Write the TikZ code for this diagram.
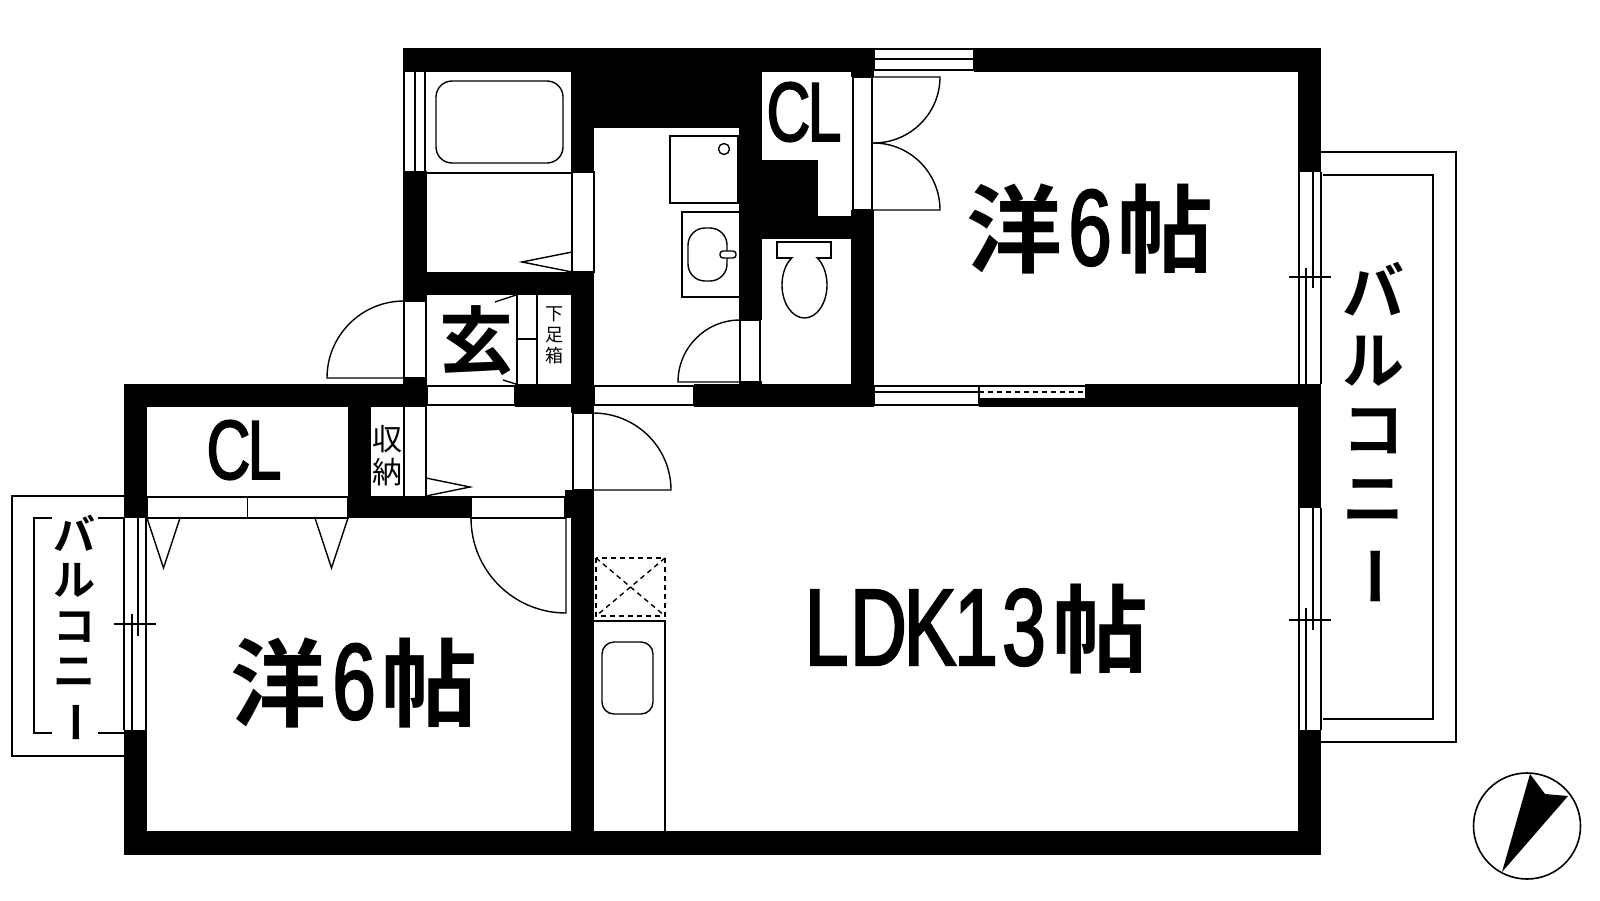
\documentclass[tikz,border=0pt]{standalone}
\usepackage{fontspec}
\setmainfont{Liberation Sans}
\newfontfamily\jpb{Noto Sans CJK JP Bold}
\newfontfamily\jpr{Noto Sans CJK JP}
\newfontfamily\latb[FakeStretch=0.72,FakeBold=2]{Liberation Sans}
\newcommand{\hw}[2]{\makebox[#1pt][c]{#2}}
\newcommand{\vbar}{\hspace*{.4em}\rotatebox[origin=c]{90}{ー}}
\newcommand{\bigjp}[1]{\fontsize{96}{96}\jpb #1}
\tikzset{
  x=1pt,y=-1pt,
  wallfill/.style={fill=black,draw=none},
  ln/.style={draw=black,line width=1.4pt,line join=miter},
  txt/.style={inner sep=0pt,outer sep=0pt,text=black},
  dashln/.style={ln,dash pattern=on 5pt off 4pt},
}
\newcommand{\W}[4]{\fill[wallfill] (#1,#2) rectangle (#3,#4);}
\newcommand{\R}[4]{\draw[ln] (#1,#2) rectangle (#3,#4);}
\begin{document}
\begin{tikzpicture}
\useasboundingbox (0,0) rectangle (1600,900);
\fill[white] (0,0) rectangle (1600,900);
% walls
\W{403}{48}{874}{72}\W{974}{48}{1321}{72}\W{851}{48}{874}{77}
\W{571}{72}{762}{128}\W{571}{128}{594}{172}\W{739}{128}{762}{320}
\W{762}{160}{818}{216}\W{739}{216}{874}{239}\W{851}{210}{874}{407}
\W{403}{171}{427}{301}\W{403}{272}{594}{295}\W{571}{272}{594}{413}
\W{515}{384}{594}{407}\W{694}{384}{874}{407}\W{739}{381}{762}{384}
\W{403}{378}{427}{407}\W{124}{384}{427}{407}\W{124}{384}{147}{518}
\W{348}{384}{371}{518}\W{348}{496}{471}{518}\W{565}{490}{594}{518}
\W{571}{490}{594}{855}\W{124}{730}{147}{855}\W{124}{831}{1321}{855}
\W{1298}{48}{1321}{172}\W{1298}{384}{1321}{508}\W{1298}{730}{1321}{855}
\W{1085}{384}{1298}{407}\W{979}{398}{1085}{406}
% bath window and bath
\draw[ln] (404,72)--(404,171) (415,72)--(415,171) (425,72)--(425,171);
\draw[ln,rounded corners=16pt] (436,81) rectangle (563,163);
\draw[ln] (427,173)--(571,173);
\R{572}{172}{594}{272}
\draw[ln] (572,252)--(522,262)--(572,272);
% entry
\R{404}{301}{426}{378}
\draw[ln] (404,301) arc (270:180:77) -- (404,378);
\draw[ln] (517,295)--(517,384) (537,295)--(537,384) (517,339)--(537,339);
\draw[ln] (495,302)--(516,295) (503,380)--(516,384);
\R{427}{386}{515}{405}
\R{594}{386}{694}{405}
% washer and sink
\R{670}{136}{738}{203}
\draw[ln] (724,149) circle (5.5);
\draw[ln] (739,212)--(682,212)--(682,297)--(739,297);
\draw[ln,rounded corners=17pt] (688,228) rectangle (727,281);
\draw[ln,fill=white,rounded corners=3pt] (720,251) rectangle (736,258);
% wc door and wc
\R{740}{320}{760}{382}
\draw[ln] (740,320) arc (270:180:62) -- (740,382);
\draw[ln] (804.5,285) ellipse (22.5 and 33);
\fill[white] (778,240) rectangle (832,257);
\draw[ln] (791,258)--(777,258)--(777,242)--(831,242)--(831,258)--(818,258);
% closet double door
\R{853}{77}{872}{210}
\draw[ln] (872,77)--(940,77) arc (0:90:66.5 and 66) -- (872,143);
\draw[ln] (872,210)--(940,210) arc (0:-90:66.5 and 67) -- (872,143);
% top and bottom windows of the bedroom
\R{874}{49}{974}{70}
\draw[ln] (874,59)--(974,59);
\R{874}{386}{979}{405}
\draw[ln] (874,392)--(979,392);
\draw[ln] (979,386)--(1085,386) (979,406)--(1085,406);
\draw[dashln] (979,392)--(1085,392);
% right windows
\draw[ln] (1299,172)--(1299,384) (1321,172)--(1321,384);
\draw[ln] (1306,268)--(1306,384) (1313,172)--(1313,288) (1289,277)--(1331,277);
\draw[ln] (1299,508)--(1299,730) (1321,508)--(1321,730);
\draw[ln] (1306,608)--(1306,730) (1313,508)--(1313,630) (1289,620)--(1331,620);
% right balcony
\draw[ln] (1321,152)--(1456,152)--(1456,742)--(1321,742);
\draw[ln] (1323,175)--(1433,175)--(1433,719)--(1323,719);
% left balcony
\draw[ln] (124,496)--(12,496)--(12,756)--(124,756);
\draw[ln] (52,518)--(34,518)--(34,733)--(52,733);
\draw[ln] (98,518)--(124,518) (98,733)--(124,733);
% left window
\draw[ln] (124,518)--(124,730) (146,518)--(146,730);
\draw[ln] (132,614)--(132,730) (138,518)--(138,636) (114,624)--(156,624);
% left closet
\R{147}{497}{348}{518}
\draw[ln] (247.5,497)--(247.5,518);
\draw[ln] (147,518)--(163.5,568)--(180,518);
\draw[ln] (315,518)--(331.5,568)--(348,518);
% storage
\draw[ln] (404,407)--(404,496) (426,407)--(426,496);
\draw[ln] (426,478)--(470,487)--(426,496);
% bedroom door
\R{471}{497}{565}{518}
\draw[ln] (471,518) arc (180:90:95) -- (566,518);
% ldk door
\R{573}{413}{593}{490}
\draw[ln] (593,413) arc (270:360:78 and 77) -- (593,490);
% kitchen
\draw[dashln] (596,558) rectangle (665,616);
\draw[dashln] (596,558)--(665,616) (665,558)--(596,616);
\draw[ln] (594,621)--(665,621)--(665,831);
\draw[ln,rounded corners=12pt] (602,642) rectangle (653,714);
% compass
\draw[line width=1.6pt] (1527,826) ellipse (53.5 and 53);
\fill[black] (1502,872)--(1530,774)--(1545,794)--(1568,796)--cycle;
% labels
\node[txt,anchor=base] (bed1) at (1090,265) {\bigjp{洋}\hw{55}{\fontsize{108}{108}\latb 6}\bigjp{帖}};
\node[txt,anchor=base] (bed2) at (354,719) {\bigjp{洋}\hw{55}{\fontsize{108}{108}\latb 6}\bigjp{帖}};
\node[txt,anchor=base] (ldk) at (974,665) {\fontsize{109}{109}\latb\hw{54}{L}\hw{50}{D}\hw{53}{K}\hw{39}{1}\hw{57}{3}\bigjp{帖}};
\node[txt,anchor=center] (cl1) at (805,112) {\fontsize{84}{84}\latb\hw{39}{C}\hw{33}{L}};
\node[txt,anchor=center] (cl2) at (245,450) {\fontsize{84}{84}\latb\hw{39}{C}\hw{33}{L}};
\node[txt,anchor=center] (gen) at (476,341) {\fontsize{74}{74}\jpb 玄};
\node[txt,align=center,font={\fontsize{18}{21}\jpr}] (shoe) at (554,335) {下\\足\\箱};
\node[txt,align=center,font={\fontsize{30}{33}\jpr}] (store) at (387,456) {収\\納};
\node[txt,align=center,font={\fontsize{62}{69}\jpb}] (bal1) at (1373,435) {バ\\ル\\コ\\ニ\\\vbar};
\node[txt,align=center,font={\fontsize{42}{45.5}\jpb}] (bal2) at (74,629) {バ\\ル\\コ\\ニ\\\vbar};
\end{tikzpicture}
\end{document}
